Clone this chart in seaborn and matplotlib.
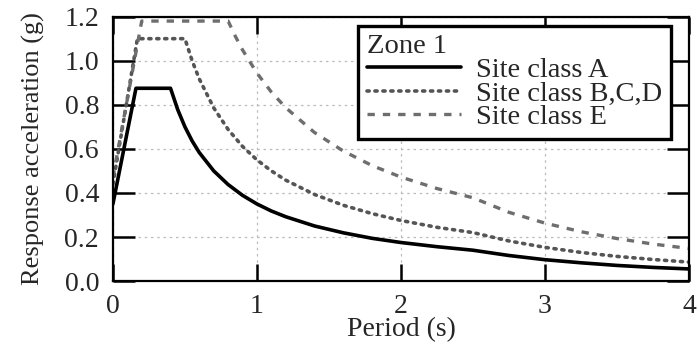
import matplotlib
matplotlib.use("Agg")
import matplotlib.pyplot as plt
import seaborn as sns

# --- data (period in s, response in g) ---
period_a = [0.0, 0.16, 0.4, 0.45, 0.5, 0.55, 0.6, 0.7, 0.8, 0.9, 1.0, 1.1, 1.2,
            1.4, 1.6, 1.8, 2.0, 2.25, 2.5, 2.75, 3.0, 3.25, 3.5, 3.75, 4.0]
resp_a = [0.35, 0.875, 0.875, 0.778, 0.70, 0.636, 0.583, 0.50, 0.438, 0.389, 0.35,
          0.318, 0.292, 0.25, 0.219, 0.194, 0.175, 0.156, 0.14, 0.116, 0.097,
          0.083, 0.071, 0.062, 0.055]

period_bcd = [0.0, 0.17, 0.5, 0.55, 0.6, 0.7, 0.8, 0.9, 1.0, 1.1, 1.2, 1.4, 1.6,
              1.8, 2.0, 2.25, 2.5, 2.75, 3.0, 3.25, 3.5, 3.75, 4.0]
resp_bcd = [0.44, 1.10, 1.10, 1.0, 0.917, 0.786, 0.688, 0.611, 0.55, 0.50, 0.458,
            0.393, 0.344, 0.306, 0.275, 0.244, 0.22, 0.182, 0.153, 0.130, 0.112,
            0.098, 0.086]

period_e = [0.0, 0.2, 0.8, 0.85, 0.9, 1.0, 1.1, 1.2, 1.4, 1.6, 1.8, 2.0, 2.25,
            2.5, 2.75, 3.0, 3.25, 3.5, 3.75, 4.0]
resp_e = [0.47, 1.18, 1.18, 1.111, 1.049, 0.944, 0.858, 0.787, 0.674, 0.59, 0.524,
          0.472, 0.42, 0.378, 0.312, 0.263, 0.224, 0.193, 0.168, 0.148]

labels = ["Site class A", "Site class B,C,D", "Site class E"]
legend_title = "Zone 1"
x_ticks = [0, 1, 2, 3, 4]
y_ticks = [0.0, 0.2, 0.4, 0.6, 0.8, 1.0, 1.2]

sns.set_style("ticks")
plt.rcParams["font.family"] = ["Liberation Serif", "DejaVu Serif"]

fig = plt.figure(figsize=(6.97, 3.47), dpi=100)
ax = fig.add_axes([0.162, 0.190, 0.8265, 0.762])

sns.lineplot(x=period_a, y=resp_a, ax=ax, color="black", lw=2.6,
             label=labels[0])
sns.lineplot(x=period_bcd, y=resp_bcd, ax=ax, color="#555555", lw=2.6,
             linestyle=(0, (0.6, 1.6)), dash_capstyle="round", label=labels[1])
sns.lineplot(x=period_e, y=resp_e, ax=ax, color="#6e6e6e", lw=2.4,
             linestyle=(0, (2.2, 2.4)), label=labels[2])

ax.set_xlim(0, 4)
ax.set_ylim(0, 1.2)
ax.set_xticks(x_ticks)
ax.set_yticks(y_ticks)
ax.set_xticklabels([str(t) for t in x_ticks])
ax.set_yticklabels([f"{t:.1f}" for t in y_ticks])
ax.grid(True, color="#bcbcbc", linestyle=(0, (2, 3)), linewidth=0.9)

for s in ax.spines.values():
    s.set_visible(True)
    s.set_linewidth(1.6)
    s.set_color("black")
ax.tick_params(axis="both", direction="in", top=True, right=True,
               width=1.8, color="black", labelsize=20)
ax.tick_params(axis="y", length=16, pad=10)
ax.tick_params(axis="x", length=12, pad=9)

ax.set_xlabel("Period (s)", fontsize=20, labelpad=-1)
ax.set_ylabel("Response acceleration (g)", fontsize=19, labelpad=14)

leg = ax.legend(title=legend_title, loc="upper right",
                bbox_to_anchor=(0.969, 0.965), borderaxespad=0,
                fontsize=20.5, title_fontsize=20.5, alignment="left",
                fancybox=False, framealpha=1, edgecolor="black",
                handlelength=3.3, handletextpad=0.55, labelspacing=-0.08,
                borderpad=0.3)
leg.get_frame().set_linewidth(2.4)

fig.savefig("out.png", dpi=100)
